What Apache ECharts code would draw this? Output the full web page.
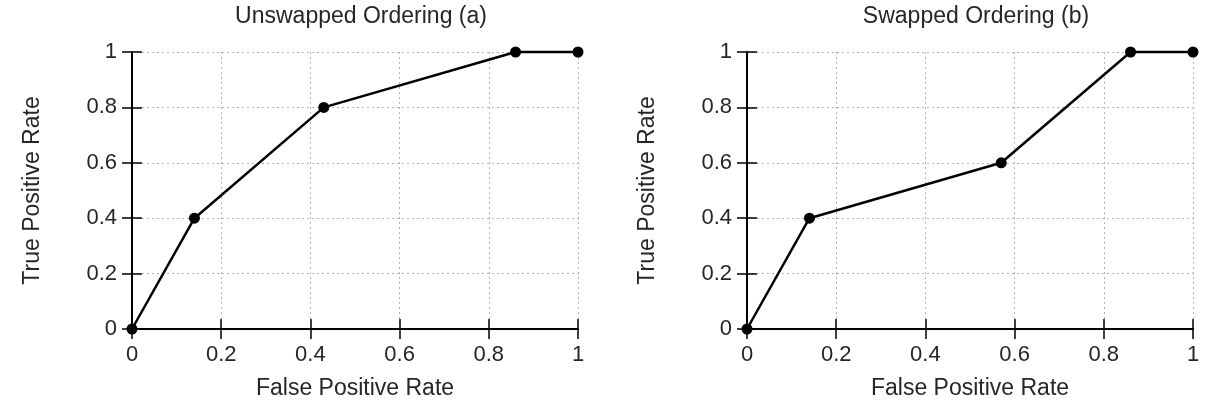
<!DOCTYPE html>
<html><head><meta charset="utf-8">
<script src="https://cdn.jsdelivr.net/npm/echarts@6/dist/echarts.min.js"></script>
<style>html,body{margin:0;padding:0;background:#fff}#c{width:1206px;height:405px}</style>
</head><body><div id="c"></div>
<script>
const titles = ['Unswapped Ordering (a)', 'Swapped Ordering (b)'];
const fprA = [0, 0.14, 0.43, 0.86, 1];
const tprA = [0, 0.4, 0.8, 1, 1];
const fprB = [0, 0.14, 0.57, 0.86, 1];
const tprB = [0, 0.4, 0.6, 1, 1];
const xName = 'False Positive Rate';
const yName = 'True Positive Rate';

const font = 'Liberation Sans, Arial, Helvetica, sans-serif';
const txt = '#262626';
const grids = [
  {left: 132, top: 52, width: 446, height: 281},
  {left: 747, top: 52, width: 446, height: 281}
];
function fmt(v){ return v === 0 ? '0' : (v === 1 ? '1' : String(+v.toFixed(1))); }
const tick = {show: true, inside: true, length: 10, lineStyle: {color: '#000', width: 1.5}};
const line = {show: true, lineStyle: {color: '#000', width: 2}};
const split = {show: true, lineStyle: {color: '#b5b5b5', type: [2, 3], width: 1}};
const xAxes = [], yAxes = [];
grids.forEach((g, i) => {
  xAxes.push({
    type: 'value', gridIndex: i, min: 0, max: 1, interval: 0.2, position: 'bottom',
    name: xName, nameLocation: 'middle', nameGap: 48,
    nameTextStyle: {fontFamily: font, fontSize: 23, color: txt},
    axisLine: line, axisTick: tick,
    axisLabel: {fontFamily: font, fontSize: 22, color: txt, margin: 15, formatter: fmt},
    splitLine: split
  });
  xAxes.push({
    type: 'value', gridIndex: i, min: 0, max: 1, interval: 0.2, position: 'top',
    axisLine: line, axisTick: tick, axisLabel: {show: false}, splitLine: {show: false}
  });
  yAxes.push({
    type: 'value', gridIndex: i, min: 0, max: 1, interval: 0.2, position: 'left',
    name: yName, nameLocation: 'middle', nameGap: 88, nameRotate: 90,
    nameTextStyle: {fontFamily: font, fontSize: 23, color: txt},
    axisLine: line, axisTick: tick,
    axisLabel: {fontFamily: font, fontSize: 22, color: txt, margin: 15, formatter: fmt},
    splitLine: split
  });
  yAxes.push({
    type: 'value', gridIndex: i, min: 0, max: 1, interval: 0.2, position: 'right',
    axisLine: line, axisTick: tick, axisLabel: {show: false}, splitLine: {show: false}
  });
});
function pairs(xs, ys){ return xs.map((x, k) => [x, ys[k]]); }
const chart = echarts.init(document.getElementById('c'), null, {renderer: 'canvas'});
chart.setOption({
  animation: false,
  backgroundColor: '#fff',
  title: [
    {text: titles[0], left: 356, top: 0, textAlign: 'center', textStyle: {fontFamily: font, fontSize: 23, fontWeight: 'normal', color: txt}},
    {text: titles[1], left: 971, top: 0, textAlign: 'center', textStyle: {fontFamily: font, fontSize: 23, fontWeight: 'normal', color: txt}}
  ],
  grid: grids,
  xAxis: xAxes,
  yAxis: yAxes,
  series: [
    {type: 'line', xAxisIndex: 0, yAxisIndex: 0, data: pairs(fprA, tprA), symbol: 'circle', symbolSize: 11,
     lineStyle: {color: '#000', width: 2.5}, itemStyle: {color: '#000'}, clip: false, z: 5},
    {type: 'line', xAxisIndex: 2, yAxisIndex: 2, data: pairs(fprB, tprB), symbol: 'circle', symbolSize: 11,
     lineStyle: {color: '#000', width: 2.5}, itemStyle: {color: '#000'}, clip: false, z: 5}
  ]
});
</script></body></html>
